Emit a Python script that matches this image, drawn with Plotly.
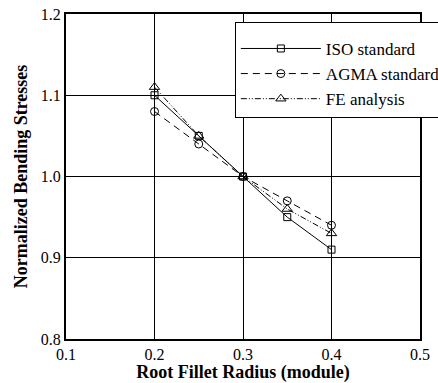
import plotly.graph_objects as go

radius = [0.2, 0.25, 0.3, 0.35, 0.4]
iso = [1.10, 1.05, 1.00, 0.95, 0.91]
agma = [1.08, 1.04, 1.00, 0.97, 0.94]
fe = [1.11, 1.05, 1.00, 0.96, 0.93]

x_ticks = [0.1, 0.2, 0.3, 0.4, 0.5]
y_ticks = [0.8, 0.9, 1.0, 1.1, 1.2]

serif = "Liberation Serif, Times New Roman, serif"

fig = go.Figure()
fig.add_trace(go.Scatter(x=radius, y=iso, name="ISO standard", mode="lines+markers",
                         line=dict(color="black", width=1, dash="solid"),
                         marker=dict(symbol="square-open", size=7, color="black", line=dict(width=1))))
fig.add_trace(go.Scatter(x=radius, y=agma, name="AGMA standard", mode="lines+markers",
                         line=dict(color="black", width=1, dash="7px,5px"),
                         marker=dict(symbol="circle-open", size=8, color="black", line=dict(width=1))))
fig.add_trace(go.Scatter(x=radius, y=fe, name="FE analysis", mode="lines+markers",
                         line=dict(color="black", width=1, dash="6px,2px,1px,2px,1px,2px"),
                         marker=dict(symbol="triangle-up-open", size=9, color="black", line=dict(width=1))))

fig.update_layout(
    width=438, height=383,
    margin=dict(l=66, r=18, t=14, b=44, autoexpand=False),
    paper_bgcolor="white", plot_bgcolor="white",
    font=dict(family=serif, size=16, color="black"),
    showlegend=True,
    legend=dict(x=0.477, y=0.975, xanchor="left", yanchor="top",
                bgcolor="white", bordercolor="black", borderwidth=1,
                font=dict(family=serif, size=17, color="black"),
                title=dict(text=" ", font=dict(size=6)),
                itemwidth=80, tracegroupgap=0),
)
fig.update_xaxes(range=[0.1, 0.5], tickvals=x_ticks, ticktext=[f"{v:.1f}" for v in x_ticks],
                 showgrid=True, gridcolor="black", gridwidth=1,
                 showline=True, linecolor="black", linewidth=2, mirror=True,
                 ticks="", zeroline=False, automargin=False,
                 tickfont=dict(family=serif, size=16),
                 title=dict(text="<b>Root Fillet Radius (module)</b>", font=dict(family=serif, size=18), standoff=1))
fig.update_yaxes(range=[0.8, 1.2], tickvals=y_ticks, ticktext=[f"{v:.1f}" for v in y_ticks],
                 showgrid=True, gridcolor="black", gridwidth=1,
                 showline=True, linecolor="black", linewidth=2, mirror=True,
                 ticks="", zeroline=False, automargin=False,
                 tickfont=dict(family=serif, size=16),
                 title=dict(text="<b>Normalized Bending Stresses</b>", font=dict(family=serif, size=18), standoff=8))

fig.write_html("out.html", config={"displayModeBar": False},
               post_script="document.body.style.margin='0';")
